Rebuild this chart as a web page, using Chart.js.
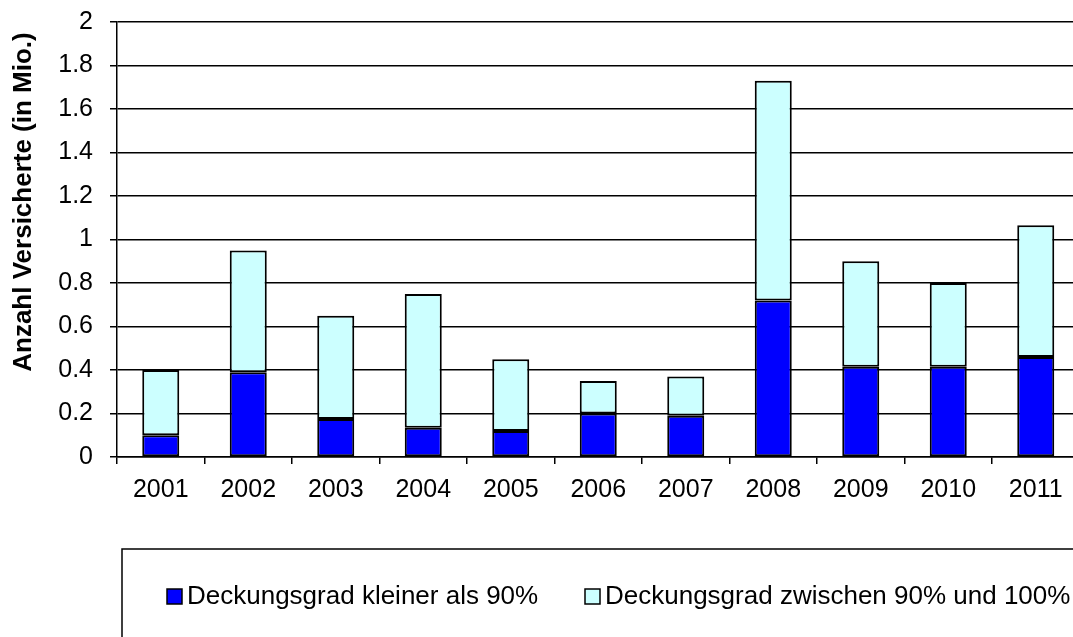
<!DOCTYPE html>
<html>
<head>
<meta charset="utf-8">
<script src="https://cdn.jsdelivr.net/npm/chart.js@4"></script>
<style>
  html, body { margin: 0; padding: 0; background: #fff; overflow: hidden; }
  #wrap { width: 1090px; height: 637px; }
</style>
</head>
<body>
<div id="wrap"><canvas id="chartVersicherte" width="1090" height="637"></canvas></div>
<script>
const jahre = ['2001', '2002', '2003', '2004', '2005', '2006', '2007', '2008', '2009', '2010', '2011'];
const unter90 = [0.10, 0.39, 0.175, 0.135, 0.12, 0.20, 0.19, 0.72, 0.415, 0.415, 0.46];
const zwischen90und100 = [0.30, 0.56, 0.475, 0.615, 0.33, 0.15, 0.18, 1.01, 0.485, 0.385, 0.605];
const yTicks = [0, 0.2, 0.4, 0.6, 0.8, 1, 1.2, 1.4, 1.6, 1.8, 2];
const yTitel = 'Anzahl Versicherte (in Mio.)';

const schrift = 'Arial, "Liberation Sans", sans-serif';

// y title sits a bit above the middle in the original, so draw it by hand
const yTitelPlugin = {
  id: 'yTitel',
  afterDraw(chart) {
    const c = chart.ctx;
    c.save();
    c.translate(24, 202);
    c.rotate(-Math.PI / 2);
    c.font = 'bold 26px ' + schrift;
    c.fillStyle = '#000';
    c.textAlign = 'center';
    c.textBaseline = 'middle';
    c.fillText(yTitel, 0, 0);
    c.restore();
  }
};

// legend in a framed box below the chart, like the Excel original
const legendeBox = {
  id: 'legendeBox',
  afterDraw(chart) {
    const c = chart.ctx;
    c.save();
    c.strokeStyle = '#000';
    c.lineWidth = 1.5;
    c.strokeRect(122, 549, 1000, 120);
    const startX = [167, 585];
    c.font = '26px ' + schrift;
    c.textBaseline = 'middle';
    chart.data.datasets.forEach((ds, i) => {
      const x = startX[i];
      c.fillStyle = ds.backgroundColor;
      c.fillRect(x, 589, 15, 15);
      c.lineWidth = 1.5;
      c.strokeStyle = '#000';
      c.strokeRect(x, 589, 15, 15);
      c.fillStyle = '#000';
      c.fillText(ds.label, x + 20, 597);
    });
    c.restore();
  }
};

const ctx = document.getElementById('chartVersicherte');

new Chart(ctx, {
  type: 'bar',
  data: {
    labels: jahre,
    datasets: [{
      label: 'Deckungsgrad kleiner als 90%',
      data: unter90,
      backgroundColor: '#0000FF',
      borderColor: '#000',
      borderWidth: 2,
      borderSkipped: false
    }, {
      label: 'Deckungsgrad zwischen 90% und 100%',
      data: zwischen90und100,
      backgroundColor: '#CCFFFF',
      borderColor: '#000',
      borderWidth: 2,
      borderSkipped: false
    }]
  },
  options: {
    responsive: false,
    animation: false,
    categoryPercentage: 1,
    barPercentage: 0.423,
    layout: { padding: { left: 0, top: 22, right: 10.5, bottom: 0 } },
    plugins: {
      legend: { display: false },
      tooltip: { enabled: false }
    },
    scales: {
      x: {
        stacked: true,
        grid: { drawOnChartArea: false, drawTicks: true, tickLength: 7, color: '#000', lineWidth: 1.5 },
        border: { color: '#000', width: 1.5 },
        ticks: { color: '#000', font: { size: 25, family: schrift }, padding: 11, maxRotation: 0 },
        afterFit(scale) { scale.height = 180; }
      },
      y: {
        stacked: true,
        min: 0,
        max: 2,
        grid: { color: '#000', lineWidth: 1.5, tickLength: 7 },
        border: { color: '#000', width: 1.5 },
        afterBuildTicks(scale) { scale.ticks = yTicks.map(v => ({ value: v })); },
        ticks: {
          color: '#000',
          font: { size: 25, family: schrift, lineHeight: 0.6 },
          padding: 17,
          callback: v => String(v)
        },
        afterFit(scale) {
          scale.width = 117;
          scale.paddingTop = 0;
          scale.paddingBottom = 0;
        }
      }
    }
  },
  plugins: [yTitelPlugin, legendeBox]
});
</script>
</body>
</html>
